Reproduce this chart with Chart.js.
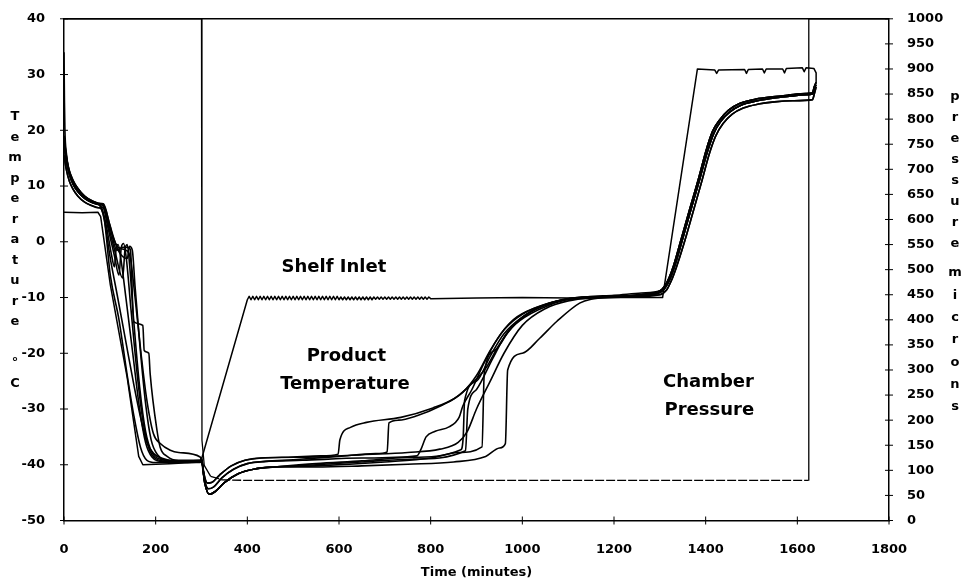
<!DOCTYPE html>
<html>
<head>
<meta charset="utf-8">
<script src="https://cdn.jsdelivr.net/npm/chart.js@4.4.1/dist/chart.umd.min.js"></script>
<style>
  body { margin: 0; background: #fff; }
  canvas { display: block; }
</style>
</head>
<body>
<canvas id="cycle" width="970" height="583"></canvas>
<script>
// [time (min), temperature (°C)] pieces of the product thermocouple traces
const coolA = [[0,15.5],[5,13],[12,10.8],[20,9.4],[30,8.2],[45,7.1],[60,6.5],[75,6.1]];
const coolB = [[0,17.5],[5,14.5],[12,12],[20,10.3],[30,9],[45,7.8],[60,7.1],[75,6.7]];
const coolC = [[0,19],[4,16],[10,13.2],[20,11],[30,9.6],[45,8.2],[60,7.4],[75,6.9]];
const coolHot = [[0,34],[1,25],[2,20],[5,16],[12,12.5],[20,10.6],[30,9.2],[45,8],[60,7.3],[75,6.8]];

const freeze1 = [[80,6],[88,4],[100,-2.5],[116,-9.5],[134,-17.5],[152,-25.5],[167,-31.5],[181,-36],[196,-38],[212,-38.8],[250,-39.4],[297,-39.4]];
const freeze2 = [[82,6.2],[92,3],[104,-2.5],[110,-4.5],[114,-1],[118,-0.5],[124,-3],[135,-10],[150,-20],[165,-30],[178,-36],[192,-38.6],[215,-39.4],[297,-39.2]];
const freeze3 = [[84,6.6],[96,2.5],[110,-2.5],[120,-6],[125,-1],[130,-0.3],[136,-3],[146,-12],[160,-24],[172,-32],[185,-37],[200,-38.9],[230,-39.4],[297,-39.3]];
const freeze4 = [[85,6.2],[98,2.5],[112,-2],[128,-6.5],[133,-1.5],[138,-0.5],[143,-4],[152,-14],[165,-26],[178,-34],[192,-37.8],[210,-39],[297,-39.6]];
const freeze5 = [[86,6.6],[100,3],[115,-1.5],[128,-1],[140,-1],[145,-1.5],[152,-14.3],[172,-15],[175,-19.5],[185,-20],[188,-23.7],[203,-33.9],[210,-36.9],[225,-38.5],[250,-39.3],[297,-39.4]];
const freeze6 = [[86,6.8],[100,3],[118,-1.5],[138,-3],[143,-0.8],[149,-1.5],[155,-8],[165,-18],[178,-29],[190,-35.5],[205,-38.3],[230,-39.2],[297,-39.2]];
const freeze7 = [[86,6.5],[100,2.5],[118,-1],[135,-1.5],[145,-3],[155,-10],[168,-20],[180,-28],[195,-34.4],[210,-36.2],[232,-37.4],[250,-37.8],[297,-38.6]];
const freeze8 = [[80,6.2],[88,4],[101,-6],[120,-14],[138,-24],[152,-31],[167,-36.9],[181,-39.2],[200,-39.6],[297,-39.5]];

const dipHigh = [[300,-38.8],[305,-41.5],[313,-43.3],[322,-43.2],[340,-41.8],[365,-40.2],[395,-39.2],[430,-38.8]];
const dipMid = [[300,-39],[306,-42.5],[315,-44.3],[326,-44],[345,-42.3],[370,-40.8],[400,-39.8],[440,-39.4]];
const dipLow = [[300,-39.2],[307,-43.2],[317,-45.3],[330,-44.8],[350,-43.2],[380,-41.6],[420,-40.7],[460,-40.4]];

const primary1 = [[500,-38.6],[560,-38.4],[598,-38.1],[602,-35.5],[625,-33.3],[660,-32.4],[735,-31.5],[805,-29.8],[850,-28.2],[880,-26.2],[920,-22.7],[950,-18.4],[985,-14.8],[1040,-12],[1095,-10.4],[1140,-9.9],[1200,-9.6],[1260,-9.2]];
const primary2 = [[500,-39.1],[600,-38.5],[680,-38],[705,-37.7],[709,-32.5],[730,-32],[770,-31.2],[820,-29.5],[870,-27],[900,-24],[930,-19.5],[960,-15.8],[1000,-13],[1060,-11],[1120,-10],[1200,-9.8],[1260,-9.4]];
const primary3 = [[520,-39.2],[650,-38.8],[770,-38.4],[780,-37],[790,-35],[810,-34],[840,-33.2],[862,-31.5],[870,-29.5],[890,-26.5],[915,-22],[945,-17.5],[980,-14],[1030,-11.8],[1090,-10.4],[1150,-10],[1220,-9.8]];
const primary4 = [[550,-39.8],[650,-39.3],[750,-38.7],[866,-37.3],[871,-35],[874,-28.5],[900,-25],[930,-20.5],[960,-16.5],[1000,-13.5],[1060,-11],[1120,-10],[1200,-9.8],[1260,-9.6]];
const primary5 = [[550,-40],[650,-39.5],[760,-39],[876,-37.5],[881,-30],[900,-26.5],[935,-21],[965,-16.5],[1005,-13.2],[1065,-11],[1130,-10],[1200,-9.8],[1260,-9.5]];
const primary6 = [[550,-40.2],[700,-39.5],[800,-38.8],[860,-37.8],[912,-36.8],[917,-23.5],[940,-19.5],[975,-15.5],[1020,-12.5],[1080,-10.6],[1150,-10],[1220,-9.9],[1260,-9.7]];
const primary7 = [[550,-40.4],[650,-40.2],[750,-39.9],[850,-39.5],[920,-38.5],[950,-37],[963,-36.2],[968,-23],[1000,-20],[1038,-17.3],[1075,-14.3],[1125,-11],[1150,-10.3],[1200,-10],[1260,-9.8]];
const primary8 = [[550,-38.6],[650,-38.2],[750,-37.8],[820,-37.2],[860,-36],[880,-34],[900,-30],[930,-25],[960,-20],[1000,-15],[1050,-12],[1100,-10.6],[1160,-10],[1240,-9.7]];

const dryUpper = [[1300,-8.8],[1310,-8],[1320,-6.5],[1330,-4.3],[1345,0],[1365,5.8],[1385,11.5],[1401,16.4],[1415,19.8],[1430,21.8],[1450,23.6],[1474,24.8],[1510,25.6],[1546,26],[1580,26.3],[1619,26.6],[1633,26.7],[1637,27.8],[1641,28.6]];
const dryMid = [[1300,-9.1],[1312,-8.2],[1322,-6.7],[1333,-4.2],[1348,0],[1368,5.8],[1388,11.5],[1404,16.2],[1418,19.5],[1433,21.6],[1453,23.3],[1477,24.5],[1513,25.3],[1549,25.8],[1583,26.1],[1620,26.4],[1633,26.5],[1637,27.5],[1641,28.2]];
const dryLower = [[1300,-9.5],[1315,-8.6],[1325,-7],[1336,-4.6],[1352,-0.5],[1372,5.2],[1392,11],[1408,15.8],[1422,19],[1438,21.2],[1458,22.9],[1482,24],[1515,24.7],[1550,25.1],[1590,25.3],[1633,25.5],[1637,26.5],[1641,27.8]];

const probes = [
  [...coolA, ...freeze1, ...dipHigh, ...primary1, ...dryUpper],
  [...coolB, ...freeze2, ...dipMid, ...primary2, ...dryUpper],
  [...coolC, ...freeze3, ...dipMid, ...primary3, ...dryMid],
  [...coolA, ...freeze4, ...dipLow, ...primary4, ...dryLower],
  [...coolB, ...freeze5, ...dipLow, ...primary5, ...dryUpper],
  [...coolC, ...freeze6, ...dipLow, ...primary6, ...dryMid],
  [...coolB, ...freeze7, ...dipLow, ...primary7, ...dryLower],
  [...coolHot, ...freeze8, ...dipHigh, ...primary8, ...dryMid]
];

// shelf inlet temperature (°C), with the controller ripple at -10
const shelfCool = [[0,5.3],[40,5.2],[74,5.3],[80,4.5],[101,-7.7],[138,-24.4],[163,-38.5],[172,-40],[230,-39.8],[298,-39.5],[300,-39]];
const shelfRipple = [
  [400,-10.4],[404,-9.8],[408,-10.4],[412,-9.8],[416,-10.4],[420,-9.8],[424,-10.4],[428,-9.8],[432,-10.4],[436,-9.8],
  [440,-10.4],[444,-9.8],[448,-10.4],[452,-9.8],[456,-10.4],[460,-9.8],[464,-10.4],[468,-9.8],[472,-10.4],[476,-9.8],
  [480,-10.4],[484,-9.8],[488,-10.4],[492,-9.8],[496,-10.4],[500,-9.8],[504,-10.4],[508,-9.8],[512,-10.4],[516,-9.8],
  [520,-10.4],[524,-9.8],[528,-10.4],[532,-9.8],[536,-10.4],[540,-9.8],[544,-10.4],[548,-9.8],[552,-10.4],[556,-9.8],
  [560,-10.4],[564,-9.8],[568,-10.4],[572,-9.8],[576,-10.4],[580,-9.8],[584,-10.4],[588,-9.8],[592,-10.4],[596,-9.8],
  [600,-10.4],[604,-9.9],[608,-10.4],[612,-9.9],[616,-10.4],[620,-9.9],[624,-10.4],[628,-9.9],[632,-10.4],[636,-9.9],
  [640,-10.4],[644,-9.9],[648,-10.4],[652,-9.9],[656,-10.4],[660,-9.9],[664,-10.4],[668,-9.9],[672,-10.4],[676,-9.9],
  [680,-10.3],[684,-9.9],[688,-10.3],[692,-9.9],[696,-10.3],[700,-9.9],[704,-10.3],[708,-9.9],[712,-10.3],[716,-9.9],
  [720,-10.3],[724,-9.9],[728,-10.3],[732,-9.9],[736,-10.3],[740,-9.9],[744,-10.3],[748,-9.9],[752,-10.3],[756,-9.9],
  [760,-10.3],[764,-9.9],[768,-10.3],[772,-9.9],[776,-10.3],[780,-9.9],[784,-10.3],[788,-9.9],[792,-10.3],[796,-9.9],[800,-10.2]
];
const shelfWarm = [[900,-10.1],[1000,-10],[1100,-10.1],[1200,-10],[1306,-10],[1382,31],[1420,30.8],[1424,30.2],[1428,30.8],
  [1485,30.9],[1489,30.2],[1493,30.9],[1524,31],[1528,30.3],[1532,31],[1568,31],[1572,30.3],[1576,31.1],
  [1611,31.2],[1615,30.5],[1619,31.2],[1636,31.1],[1641,30.3],[1641,28.6]];

// chamber pressure (microns); off scale at atmosphere before and after the run
const pressureTime = [0, 300, 301, 306, 320, 345, 400, 800, 1200, 1624, 1625, 1800];
const pressureValue = [1000, 1000, 160, 110, 88, 81, 80, 80, 80, 80, 1000, 1000];

const xTicks = { min: 0, max: 1800, step: 200 };
const tempTicks = { min: -50, max: 40, step: 10 };
const pressTicks = { min: 0, max: 1000, step: 50 };

const notes = [
  { text: 'Shelf Inlet', t: 589, temp: -4.5 },
  { text: 'Product', t: 616, temp: -20.5 },
  { text: 'Temperature', t: 613, temp: -25.5 },
  { text: 'Chamber', t: 1406, temp: -25.3 },
  { text: 'Pressure', t: 1408, temp: -30.3 }
];

const toXY = (pairs) => pairs.map(([x, y]) => ({ x, y }));

const datasets = probes.map((p) => ({
  data: toXY(p),
  yAxisID: 'y',
  borderWidth: 1.6,
  cubicInterpolationMode: 'monotone'
}));
datasets.push({
  data: toXY([...shelfCool, ...shelfRipple, ...shelfWarm]),
  yAxisID: 'y',
  borderWidth: 1.5,
  tension: 0
});
datasets.push({
  data: pressureTime.map((t, i) => ({ x: t, y: pressureValue[i] })),
  yAxisID: 'y2',
  borderWidth: 1.3,
  tension: 0,
  // the low-pressure hold prints as a broken line
  segment: {
    borderDash: (c) => (c.p0.parsed.y < 100 && c.p1.parsed.y < 100 ? [9, 2] : [])
  }
});

const tickFont = { family: '"DejaVu Sans"', size: 13, weight: 'bold' };
const plain = (v) => String(v);

const decor = {
  id: 'decor',
  afterDraw(chart) {
    const { ctx, chartArea: a, scales } = chart;
    ctx.save();
    ctx.setLineDash([]);
    ctx.strokeStyle = '#000';
    ctx.fillStyle = '#000';
    ctx.lineWidth = 1.5;
    ctx.beginPath();
    ctx.moveTo(a.left, a.top);
    ctx.lineTo(a.right, a.top);
    ctx.stroke();

    // tick marks crossing each axis line
    ctx.lineWidth = 1;
    ctx.beginPath();
    scales.x.ticks.forEach((t) => {
      const p = scales.x.getPixelForValue(t.value);
      ctx.moveTo(p, a.bottom - 4); ctx.lineTo(p, a.bottom + 4);
    });
    scales.y.ticks.forEach((t) => {
      const p = scales.y.getPixelForValue(t.value);
      ctx.moveTo(a.left - 4, p); ctx.lineTo(a.left + 4, p);
    });
    scales.y2.ticks.forEach((t) => {
      const p = scales.y2.getPixelForValue(t.value);
      ctx.moveTo(a.right - 4, p); ctx.lineTo(a.right + 4, p);
    });
    ctx.stroke();

    ctx.textAlign = 'center';
    ctx.textBaseline = 'middle';
    ctx.font = 'bold 18px "DejaVu Sans"';
    notes.forEach((n) => {
      ctx.fillText(n.text, scales.x.getPixelForValue(n.t), scales.y.getPixelForValue(n.temp));
    });

    // axis titles written one letter per line
    ctx.font = 'bold 13px "DejaVu Sans"';
    'Temperature °C'.split('').forEach((ch, i) => ctx.fillText(ch, 15, 117 + i * 20.5));
    'pressure'.split('').forEach((ch, i) => ctx.fillText(ch, 955, 97 + i * 21));
    'microns'.split('').forEach((ch, i) => ctx.fillText(ch, 955, 273 + i * 22.3));
    ctx.fillText('Time (minutes)', (a.left + a.right) / 2, 573);
    ctx.restore();
  }
};

new Chart(document.getElementById('cycle'), {
  type: 'line',
  data: { datasets },
  plugins: [decor],
  options: {
    responsive: false,
    animation: false,
    layout: { padding: { top: 14, left: 0, right: 0, bottom: 0 } },
    plugins: { legend: { display: false }, tooltip: { enabled: false } },
    elements: {
      point: { radius: 0 },
      line: { borderColor: '#000', fill: false, borderJoinStyle: 'round' }
    },
    scales: {
      x: {
        type: 'linear', min: xTicks.min, max: xTicks.max,
        ticks: { stepSize: xTicks.step, color: '#000', font: tickFont, padding: 13, maxRotation: 0, callback: plain },
        grid: { display: false },
        border: { color: '#000', width: 1.5 },
        afterFit(s) { s.height = 62.5; }
      },
      y: {
        min: tempTicks.min, max: tempTicks.max,
        ticks: { stepSize: tempTicks.step, color: '#000', font: tickFont, padding: 11, callback: plain },
        grid: { display: false },
        border: { color: '#000', width: 1.5 },
        afterFit(s) { s.width = 64; }
      },
      y2: {
        position: 'right', min: pressTicks.min, max: pressTicks.max,
        ticks: { stepSize: pressTicks.step, color: '#000', font: tickFont, padding: 10, autoSkip: false, callback: plain },
        grid: { display: false },
        border: { color: '#000', width: 1.5 },
        afterFit(s) { s.width = 81; }
      }
    }
  }
});
</script>
</body>
</html>
